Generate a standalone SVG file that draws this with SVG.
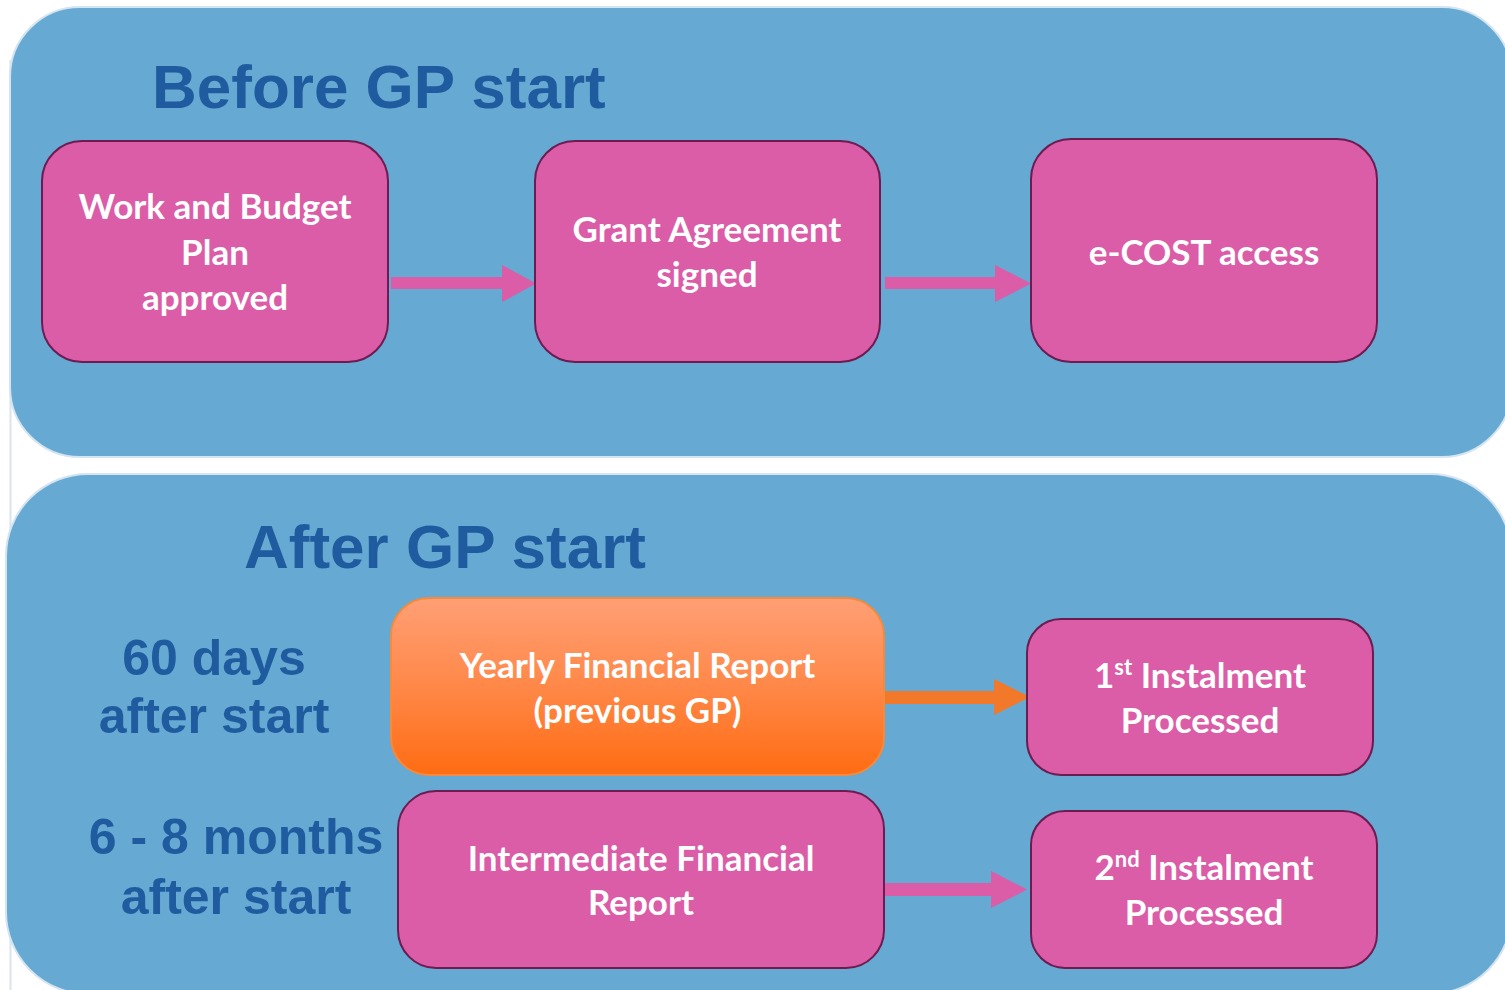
<svg xmlns="http://www.w3.org/2000/svg" width="1505" height="990" viewBox="0 0 1505 990">
<style>
.panel{fill:#66A9D2;stroke:#D4E4F0;stroke-width:2}
.title{font-family:"Liberation Sans",Arial,sans-serif;font-weight:bold;fill:#1F5C9F}
.box{fill:#DB5CA7;stroke:#6C1C50;stroke-width:2}
.lbl{font-family:Lato,"Open Sans",sans-serif;font-weight:bold;font-size:35px;fill:#FFFFFF;text-anchor:middle}
.side{font-family:"Liberation Sans",Arial,sans-serif;font-weight:bold;font-size:50px;fill:#1F5C9F;text-anchor:middle}
.pk{fill:#DB5CA7}
.or{fill:#F2782A}
</style>
<defs>
<linearGradient id="og" x1="0" y1="0" x2="0" y2="1">
<stop offset="0" stop-color="#FF9F75"/>
<stop offset="0.5" stop-color="#FF8848"/>
<stop offset="1" stop-color="#FF6C12"/>
</linearGradient>
</defs>
<rect width="1505" height="990" fill="#FFFFFF"/>
<line x1="10.5" y1="60" x2="10.5" y2="990" stroke="#D8E4EE" stroke-width="2"/>
<g id="panel-before">
<rect class="panel" x="10" y="7" width="1502" height="450" rx="70"/>
<text class="title" x="152" y="108" font-size="62">Before GP start</text>
</g>
<g id="panel-after">
<rect class="panel" x="6" y="474" width="1506" height="520" rx="82"/>
<text class="title" x="244" y="568" font-size="62">After GP start</text>
<text class="side" x="214" y="675">60 days</text>
<text class="side" x="214" y="733">after start</text>
<text class="side" x="236" y="854">6 - 8 months</text>
<text class="side" x="236" y="914">after start</text>
</g>
<g id="connectors">
<polygon class="pk" points="391,277 502,277 502,265 536,283.5 502,302 502,289 391,289"/>
<polygon class="pk" points="885,277 995,277 995,265 1031,283.5 995,302 995,289 885,289"/>
<polygon class="or" points="884,691 994,691 994,679 1030,697 994,715 994,704 884,704"/>
<polygon class="pk" points="885,883 991,883 991,871 1027,889.5 991,908 991,896 885,896"/>
</g>
<g id="node-wbp">
<rect class="box" x="42" y="141" width="346" height="221" rx="40"/>
<text class="lbl" x="215" y="219">Work and Budget</text>
<text class="lbl" x="215" y="265">Plan</text>
<text class="lbl" x="215" y="310">approved</text>
</g>
<g id="node-ga">
<rect class="box" x="535" y="141" width="345" height="221" rx="40"/>
<text class="lbl" x="707" y="242">Grant Agreement</text>
<text class="lbl" x="707" y="287">signed</text>
</g>
<g id="node-ecost">
<rect class="box" x="1031" y="139" width="346" height="223" rx="40"/>
<text class="lbl" x="1204" y="265">e-COST access</text>
</g>
<g id="node-yfr">
<rect x="391" y="598" width="493" height="177" rx="38" fill="url(#og)" stroke="#F58A3C" stroke-width="2"/>
<text class="lbl" x="637.5" y="678">Yearly Financial Report</text>
<text class="lbl" x="637.5" y="723">(previous GP)</text>
</g>
<g id="node-inst1">
<rect class="box" x="1027" y="619" width="346" height="156" rx="34"/>
<text class="lbl" x="1200" y="688">1<tspan font-size="22" dy="-13">st</tspan><tspan dy="13"> Instalment</tspan></text>
<text class="lbl" x="1200" y="733">Processed</text>
</g>
<g id="node-ifr">
<rect class="box" x="398" y="791" width="486" height="177" rx="38"/>
<text class="lbl" x="641" y="871">Intermediate Financial</text>
<text class="lbl" x="641" y="915">Report</text>
</g>
<g id="node-inst2">
<rect class="box" x="1031" y="811" width="346" height="157" rx="34"/>
<text class="lbl" x="1204" y="880">2<tspan font-size="22" dy="-13">nd</tspan><tspan dy="13"> Instalment</tspan></text>
<text class="lbl" x="1204" y="925">Processed</text>
</g>
</svg>
